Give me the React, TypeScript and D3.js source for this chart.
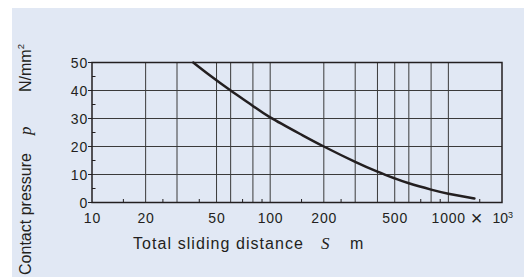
import React from "react";
import * as d3 from "d3";

// distance S (x10^3 m) vs contact pressure p (N/mm2)
const distance = [37, 45, 60, 80, 100, 150, 200, 300, 400, 500, 600, 800, 1000, 1400];
const pressure = [50, 45.8, 40, 34.5, 30.4, 24.2, 20, 14.5, 11.0, 8.6, 6.85, 4.6, 3.15, 1.4];

const xLabels = [10, 20, 50, 100, 200, 500, 1000];
const xGrid = [20, 30, 50, 60, 80, 100, 200, 300, 400, 500, 600, 800, 1000];
const xMinor = [15, 25, 40, 70, 90, 150, 250, 700, 900, 1500];
const yLabels = [0, 10, 20, 30, 40, 50];
const yMinor = [5, 15, 25, 35, 45];

const W = 524;
const H = 277;
const font = "'Liberation Sans', Arial, sans-serif";
const serif = "'Liberation Serif', 'DejaVu Serif', serif";
const ink = "#231f20";

export default function App() {
  const x = d3.scaleLog().domain([10, 2000]).range([92, 502]);
  const y = d3.scaleLinear().domain([0, 50]).range([202.5, 62.5]);

  const pts: [number, number][] = distance.map((d, i) => [d, pressure[i]]);
  const line = d3
    .line<[number, number]>()
    .x((d) => x(d[0]))
    .y((d) => y(d[1]))
    .curve(d3.curveNatural);

  return (
    <svg width={W} height={H} style={{ position: "absolute", left: 0, top: 0 }}>
      <rect x={12} y={8} width={W - 12} height={H - 8} fill="#e1e8f4" />

      {/* grid */}
      {xGrid.map((v) => (
        <line key={"gx" + v} x1={x(v)} x2={x(v)} y1={y(0)} y2={y(50)} stroke="#3a3a3a" strokeWidth={1} />
      ))}
      {yLabels.slice(1, -1).map((v) => (
        <line key={"gy" + v} x1={x(10)} x2={x(2000)} y1={y(v)} y2={y(v)} stroke="#3a3a3a" strokeWidth={1} />
      ))}

      {/* minor ticks */}
      {xMinor.map((v) => (
        <line key={"mx" + v} x1={x(v)} x2={x(v)} y1={y(0)} y2={y(0) - 3.5} stroke={ink} strokeWidth={1} />
      ))}
      {yMinor.map((v) => (
        <line key={"my" + v} x1={x(10)} x2={x(10) + 3.5} y1={y(v)} y2={y(v)} stroke={ink} strokeWidth={1} />
      ))}

      {/* frame */}
      <rect
        x={x(10)}
        y={y(50)}
        width={x(2000) - x(10)}
        height={y(0) - y(50)}
        fill="none"
        stroke={ink}
        strokeWidth={1.5}
      />

      {/* curve */}
      <path d={line(pts) || ""} fill="none" stroke={ink} strokeWidth={2.5} strokeLinecap="round" />

      {/* y tick labels */}
      {yLabels.map((v) => (
        <g key={"ly" + v}>
          <line x1={x(10) - 4} x2={x(10)} y1={y(v)} y2={y(v)} stroke={ink} strokeWidth={1} />
          <text
            x={88}
            y={y(v) + 5}
            textAnchor="end"
            fontFamily={font}
            fontSize={14}
            letterSpacing={0.8}
            fill={ink}
          >
            {v}
          </text>
        </g>
      ))}

      {/* x tick labels */}
      {xLabels.map((v) => (
        <text
          key={"lx" + v}
          x={x(v) + 0.4}
          y={223}
          textAnchor="middle"
          fontFamily={font}
          fontSize={14}
          letterSpacing={0.8}
          fill={ink}
        >
          {v}
        </text>
      ))}
      <text x={476.7} y={224.5} textAnchor="middle" fontFamily={font} fontSize={20} fill={ink}>
        ×
      </text>
      <text x={492.5} y={223} fontFamily={font} fontSize={14} fill={ink}>
        10
        <tspan dy={-5.5} fontSize={9}>3</tspan>
      </text>

      {/* x title */}
      <text
        x={133}
        y={248.5}
        fontFamily={font}
        fontSize={16}
        textLength={170}
        lengthAdjust="spacing"
        fill={ink}
      >
        Total sliding distance
      </text>
      <text x={321} y={248.5} fontFamily={serif} fontStyle="italic" fontSize={17} fill={ink}>
        S
      </text>
      <text x={350} y={248.5} fontFamily={font} fontSize={16} fill={ink}>
        m
      </text>

      {/* y title */}
      <g transform="translate(30.5,275) rotate(-90)">
        <text
          x={0}
          y={0}
          fontFamily={font}
          fontSize={16}
          textLength={122}
          lengthAdjust="spacing"
          fill={ink}
        >
          Contact pressure
        </text>
        <text x={140} y={0} fontFamily={serif} fontStyle="italic" fontSize={17} fill={ink}>
          p
        </text>
        <text x={183} y={0} fontFamily={font} fontSize={16} fill={ink}>
          N/mm
          <tspan dy={-6.5} fontSize={9.5}>2</tspan>
        </text>
      </g>
    </svg>
  );
}
